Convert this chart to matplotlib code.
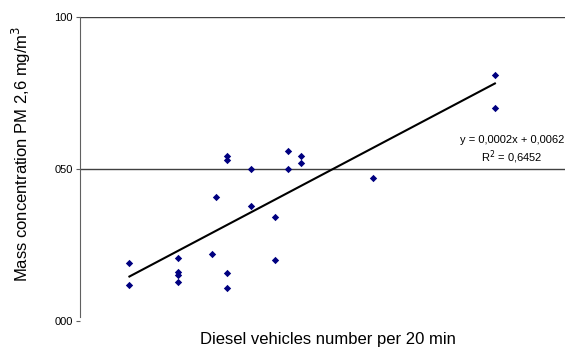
import matplotlib
matplotlib.use("Agg")
import matplotlib.pyplot as plt
import numpy as np

plt.rcParams['font.family'] = ['Liberation Sans', 'DejaVu Sans']

# Diesel vehicles per 20 min
vehicles = [43, 43, 85, 85, 85, 85, 115, 118.5, 128, 128, 128, 128,
            149, 149, 170, 170, 181, 181, 192, 192, 255, 361, 361]
# Mass concentration (thousandths of mg/m3)
concentration = [19.1, 11.9, 20.8, 16.1, 15.1, 12.8, 22.0, 40.9, 54.3, 52.9, 15.9, 10.8,
                 50.0, 37.8, 34.1, 20.0, 55.9, 50.0, 54.2, 52.0, 47.0, 80.9, 70.0]
y_ticks = [0, 50, 100]
y_tick_labels = ["000", "050", "100"]
equation_text = "y = 0,0002x + 0,0062"
r2_text = "R$^2$ = 0,6452"

fig = plt.figure(figsize=(5.67, 3.49), dpi=100)
ax = fig.add_axes([80/567, 1-321/349, 485/567, 304/349])

ax.set_xlim(0, 422)
ax.set_ylim(0, 100)

for v in [50, 100]:
    ax.axhline(v, color="#404040", lw=1.0, zorder=1)

ax.scatter(vehicles, concentration, marker="D", s=14, color="#000080", zorder=3, linewidths=0)

coef = np.polyfit(vehicles, concentration, 1)
xs = np.array([min(vehicles), max(vehicles)])
ax.plot(xs, np.polyval(coef, xs), color="black", lw=1.5, zorder=2)

ax.set_yticks(y_ticks)
ax.set_yticklabels(y_tick_labels, fontsize=8)
ax.tick_params(axis="y", length=3, width=0.8, color="#606060", pad=2)
ax.set_xticks([])

for s in ["top", "right", "bottom"]:
    ax.spines[s].set_visible(False)
ax.spines["left"].set_color("#606060")
ax.spines["left"].set_bounds(1.3, 100)

ax.set_ylabel("Mass concentration PM 2,6 mg/m$^3$", fontsize=12)
ax.yaxis.set_label_coords(-0.096, 0.549)
ax.set_xlabel("Diesel vehicles number per 20 min", fontsize=12)
ax.xaxis.set_label_coords(0.511, -0.037)

fig.text(564/567, 1-140/349, equation_text, fontsize=8, ha="right", va="center")
fig.text(512/567, 1-157/349, r2_text, fontsize=8, ha="center", va="center")

fig.savefig("out.png", dpi=100)
